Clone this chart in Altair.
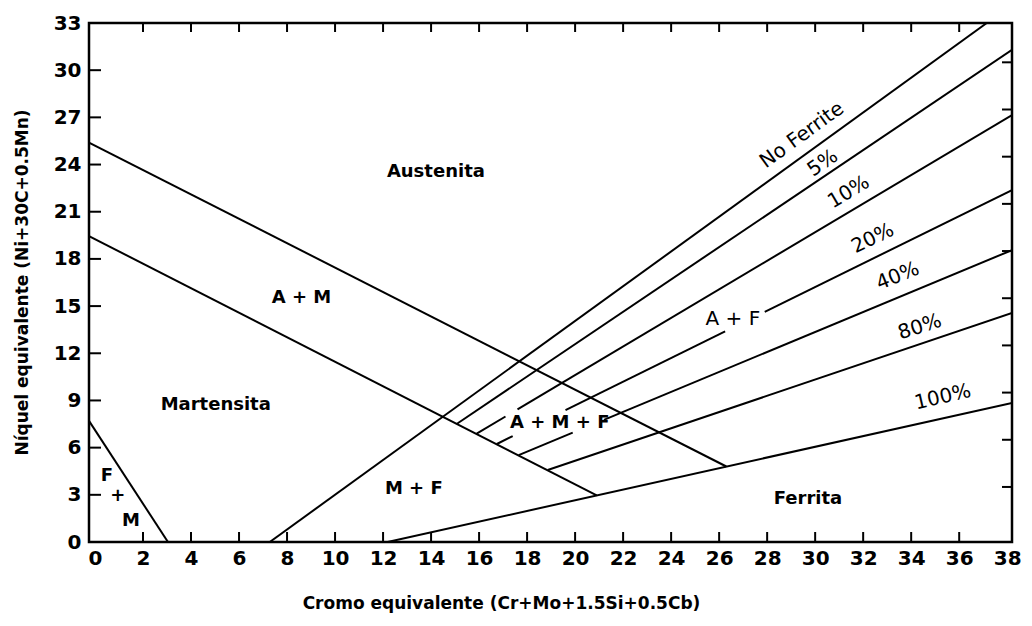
import altair as alt
import pandas as pd

# ---------------- data ----------------
X_TICKS = list(range(0, 39, 2))
Y_TICKS = list(range(0, 34, 3))
X_INNER_TICKS = list(range(2, 37, 2))
Y_LEFT_TICKS = list(range(3, 31, 3))
Y_RIGHT_TICKS = [3.5, 6.5, 9.5, 12.5, 15.5, 18.5, 21.5, 24.5, 27.5, 30.5]

# boundary lines and iso-ferrite lines (segments, gaps where labels sit)
LINE_ID = ["A_AM", "AM_M", "FM", "NoFerrite", "p5", "p10a", "p10b",
           "p20a", "p20b", "p20c", "p40a", "p40b", "p80", "p100"]
LINE_X1 = [-0.25, -0.25, -0.25, 7.28, 15.08, 15.9, 17.6,
           16.74, 19.6, 27.9, 17.65, 21.2, 18.86, 12.19]
LINE_Y1 = [25.4, 19.45, 7.7, 0.0, 7.52, 6.89, 8.43,
           6.23, 8.38, 14.63, 5.52, 7.77, 4.58, 0.0]
LINE_X2 = [26.3, 20.9, 3.04, 37.15, 38.2, 17.1, 38.2,
           17.4, 26.25, 38.2, 19.9, 38.2, 38.2, 38.2]
LINE_Y2 = [4.8, 2.97, 0.0, 33.0, 31.3, 7.98, 27.15,
           6.73, 13.39, 22.38, 6.95, 18.56, 14.56, 8.84]

# region labels (bold)
REGION_TEXT = ["Austenita", "A + M", "Martensita", "M + F", "Ferrita",
               "F", "+", "M", "A + M + F"]
REGION_X = [14.2, 8.6, 5.03, 13.28, 29.7, 0.5, 0.95, 1.5, 19.36]
REGION_Y = [23.5, 15.5, 8.7, 3.37, 2.73, 4.2, 2.9, 1.33, 7.57]

# iso-ferrite labels (regular, rotated)
ISO_TEXT = ["No Ferrite", "5%", "10%", "20%", "40%", "80%", "100%", "A + F"]
ISO_X = [29.45, 30.32, 31.4, 32.4, 33.44, 34.36, 35.32, 26.57]
ISO_Y = [25.87, 24.09, 22.25, 19.3, 16.9, 13.67, 9.21, 14.18]
ISO_ANGLE = [324, 326, 329, 334, 338, 342, 347, 0]

# ---------------- layout ----------------
W, H = 923, 519
XDOM = [-0.25, 38.2]
YDOM = [0, 33]
FONT = "DejaVu Sans"

rows = []
for i, lid in enumerate(LINE_ID):
    rows.append({"id": lid, "x": LINE_X1[i], "y": LINE_Y1[i], "o": 0})
    rows.append({"id": lid, "x": LINE_X2[i], "y": LINE_Y2[i], "o": 1})
lines_df = pd.DataFrame(rows)

xs = alt.Scale(domain=XDOM, nice=False, zero=False)
ys = alt.Scale(domain=YDOM, nice=False, zero=False)

x_axis = alt.Axis(values=X_TICKS, grid=False, ticks=False, domain=False,
                  labelFont=FONT, labelFontSize=20, labelFontWeight="bold",
                  labelColor="black", labelPadding=6,
                  title="Cromo equivalente (Cr+Mo+1.5Si+0.5Cb)",
                  titleFont=FONT, titleFontSize=17, titleFontWeight="bold",
                  titleColor="black", titleX=412, titleY=61,
                  titleAlign="center", titleBaseline="middle")
y_axis = alt.Axis(values=Y_TICKS, grid=False, ticks=False, domain=False,
                  labelFont=FONT, labelFontSize=20, labelFontWeight="bold",
                  labelColor="black", labelPadding=8,
                  title="Níquel equivalente (Ni+30C+0.5Mn)",
                  titleFont=FONT, titleFontSize=17, titleFontWeight="bold",
                  titleColor="black", titleX=-67, titleY=259, titleAngle=-90,
                  titleAlign="center", titleBaseline="middle")

lines = alt.Chart(lines_df).mark_line(color="black", strokeWidth=2, clip=True).encode(
    x=alt.X("x:Q", scale=xs, axis=x_axis),
    y=alt.Y("y:Q", scale=ys, axis=y_axis),
    detail="id:N",
    order="o:Q",
)

region_df = pd.DataFrame({"t": REGION_TEXT, "x": REGION_X, "y": REGION_Y})
regions = alt.Chart(region_df).mark_text(
    font=FONT, fontSize=18, fontWeight="bold", color="black",
    align="center", baseline="middle").encode(
    x=alt.X("x:Q", scale=xs), y=alt.Y("y:Q", scale=ys), text="t:N")

iso_df = pd.DataFrame({"t": ISO_TEXT, "x": ISO_X, "y": ISO_Y, "a": ISO_ANGLE})
iso = alt.Chart(iso_df).mark_text(
    font=FONT, fontSize=20, color="black",
    align="center", baseline="middle").encode(
    x=alt.X("x:Q", scale=xs), y=alt.Y("y:Q", scale=ys), text="t:N",
    angle=alt.Angle("a:Q", scale=None))

# inward ticks
bx = pd.DataFrame({"v": X_INNER_TICKS})
bottom_ticks = alt.Chart(bx).mark_rule(color="black", strokeWidth=2).encode(
    x=alt.X("v:Q", scale=xs), y=alt.value(H), y2=alt.value(H - 10))
top_ticks = alt.Chart(bx).mark_rule(color="black", strokeWidth=2).encode(
    x=alt.X("v:Q", scale=xs), y=alt.value(0), y2=alt.value(9))
ly = pd.DataFrame({"v": Y_LEFT_TICKS})
left_ticks = alt.Chart(ly).mark_rule(color="black", strokeWidth=2).encode(
    y=alt.Y("v:Q", scale=ys), x=alt.value(0), x2=alt.value(12))
ry = pd.DataFrame({"v": Y_RIGHT_TICKS})
right_ticks = alt.Chart(ry).mark_rule(color="black", strokeWidth=2).encode(
    y=alt.Y("v:Q", scale=ys), x=alt.value(W), x2=alt.value(W - 10))

chart = alt.layer(lines, bottom_ticks, top_ticks, left_ticks, right_ticks,
                  regions, iso).properties(
    width=W, height=H,
    autosize=alt.AutoSizeParams(type="none"),
    padding={"left": 81, "top": 15, "right": 12, "bottom": 76},
    background="white",
).configure_view(stroke="black", strokeWidth=2.5)

chart.save("out.html", embed_options={"renderer": "svg", "actions": False})
